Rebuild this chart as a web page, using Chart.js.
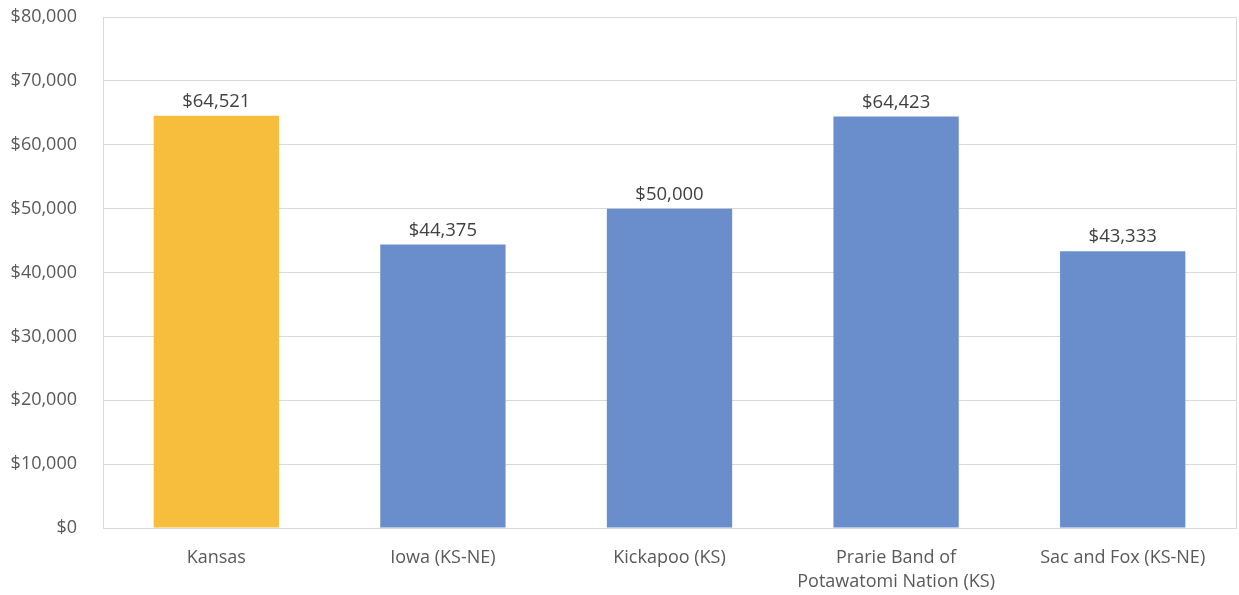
<!DOCTYPE html>
<html>
<head>
<meta charset="utf-8">
<script src="https://cdn.jsdelivr.net/npm/chart.js@4.4.1/dist/chart.umd.min.js"></script>
<style>
  html, body { margin: 0; padding: 0; background: #fff; }
  #wrap { width: 1239px; height: 595px; }
</style>
</head>
<body>
<div id="wrap"><canvas id="income-chart"></canvas></div>
<script>
const categories = ['Kansas', 'Iowa (KS-NE)', 'Kickapoo (KS)', ['Prarie Band of', 'Potawatomi Nation (KS)'], 'Sac and Fox (KS-NE)'];
const medianIncome = [64521, 44375, 50000, 64423, 43333];
const barColors = ['#F6BE3C', '#6A8ECB', '#6A8ECB', '#6A8ECB', '#6A8ECB'];
const yTicks = [0, 10000, 20000, 30000, 40000, 50000, 60000, 70000, 80000];

const money = v => '$' + v.toLocaleString('en-US');
const FONT = "'Open Sans', 'Noto Sans', sans-serif";

// box around the plot area + value labels on top of each bar
const plotFrame = {
  id: 'plotFrame',
  beforeDatasetsDraw(chart) {
    const { ctx, chartArea: a } = chart;
    ctx.save();
    ctx.strokeStyle = '#D9D9D9';
    ctx.lineWidth = 1;
    ctx.strokeRect(Math.round(a.left) + 0.5, Math.round(a.top) + 0.5, Math.round(a.right - a.left), Math.round(a.bottom - a.top));
    ctx.restore();
  }
};

const valueLabels = {
  id: 'valueLabels',
  afterDatasetsDraw(chart) {
    const { ctx } = chart;
    const meta = chart.getDatasetMeta(0);
    ctx.save();
    ctx.font = '18.5px ' + FONT;
    ctx.fillStyle = '#404040';
    ctx.textAlign = 'center';
    ctx.textBaseline = 'bottom';
    meta.data.forEach((bar, i) => {
      ctx.fillText(money(medianIncome[i]), bar.x, bar.y - 5);
    });
    ctx.restore();
  }
};

new Chart(document.getElementById('income-chart'), {
  type: 'bar',
  data: {
    labels: categories,
    datasets: [{
      data: medianIncome,
      backgroundColor: barColors,
      borderWidth: 0,
      barPercentage: 0.553,
      categoryPercentage: 1
    }]
  },
  options: {
    responsive: true,
    maintainAspectRatio: false,
    animation: false,
    layout: { padding: { top: 17, right: 3, left: 0, bottom: 0 } },
    plugins: {
      legend: { display: false },
      tooltip: { enabled: false }
    },
    scales: {
      x: {
        grid: { display: false, drawTicks: false },
        border: { color: '#D9D9D9' },
        ticks: {
          color: '#595959',
          font: { family: FONT, size: 18, lineHeight: 1.38 },
          padding: 17,
          maxRotation: 0,
          autoSkip: false
        },
        afterFit(scale) { scale.height = 67; }
      },
      y: {
        min: 0,
        max: 80000,
        afterBuildTicks(scale) { scale.ticks = yTicks.map(v => ({ value: v })); },
        grid: { color: '#D9D9D9', drawTicks: false },
        border: { color: '#D9D9D9' },
        ticks: {
          color: '#595959',
          font: { family: FONT, size: 18 },
          padding: 26,
          callback: v => money(v)
        },
        afterFit(scale) {
          scale.width = 103;
          scale.paddingTop = 0;
          scale.paddingBottom = 0;
        }
      }
    }
  },
  plugins: [plotFrame, valueLabels]
});
</script>
</body>
</html>
